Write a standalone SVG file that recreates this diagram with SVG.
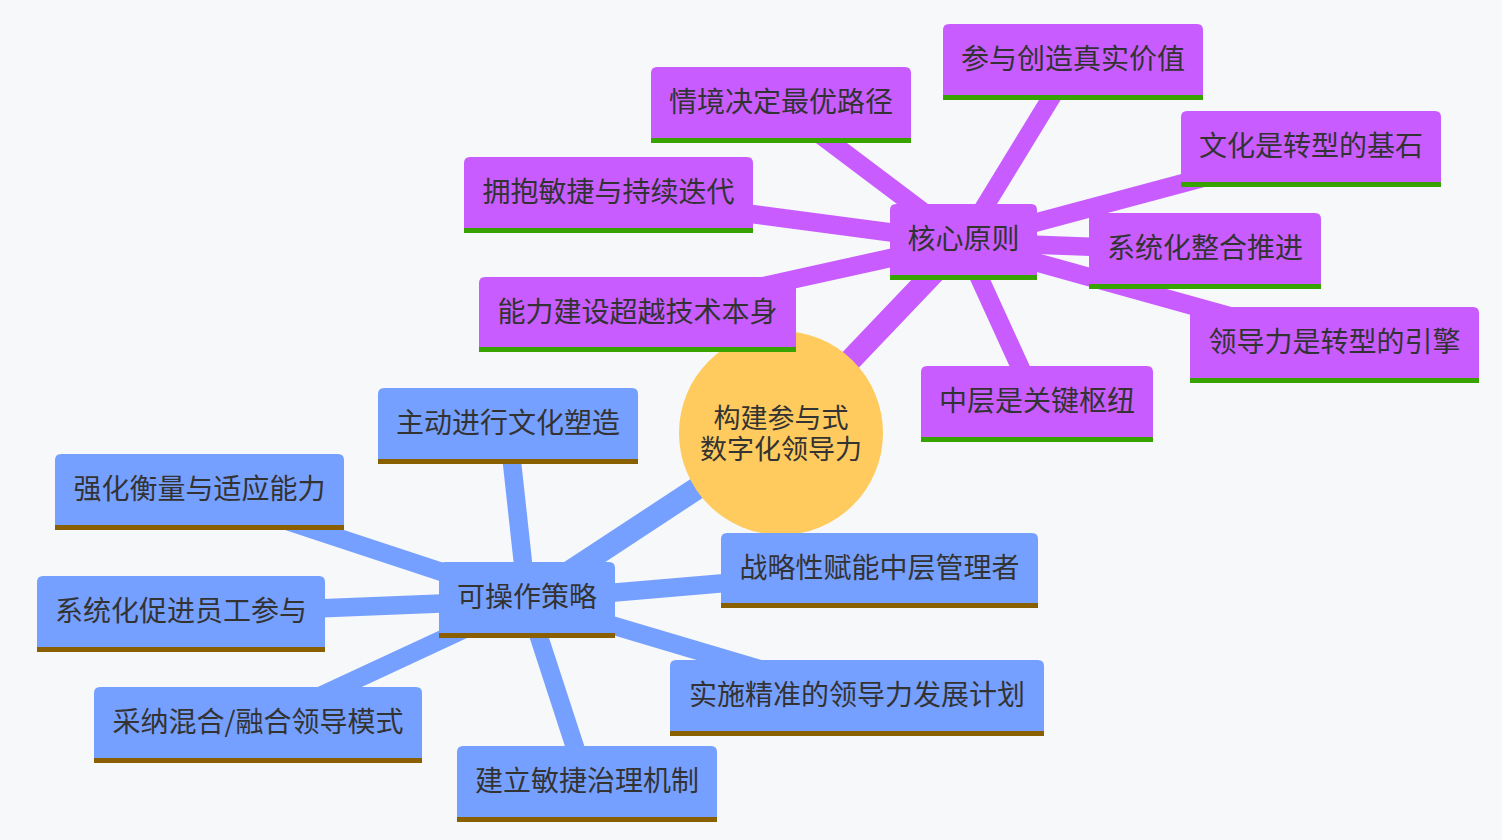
<svg xmlns="http://www.w3.org/2000/svg" width="1502" height="840" viewBox="0 0 1502 840">
<style>
text{font-family:"Noto Sans CJK SC","Noto Sans",sans-serif;font-size:28px;fill:#333333;text-anchor:middle;dominant-baseline:central}
.rt{font-size:27px}
.p{fill:#c85cff}
.pb{fill:#38a300}
.b{fill:#76a0ff}
.bb{fill:#895f00}
.ep{stroke:#c85cff;fill:none}
.eb{stroke:#76a0ff;fill:none}
.d0{stroke-width:22.5}
.d1{stroke-width:18.5}
</style>
<rect x="0" y="0" width="1502" height="840" fill="#f6f8fa"/>
<g id="connectors">
<line class="ep d0" x1="781" y1="433" x2="963" y2="242"/>
<line class="eb d0" x1="781" y1="433" x2="527" y2="600"/>
<line class="ep d1" x1="963" y1="242" x2="1073" y2="62"/>
<line class="ep d1" x1="963" y1="242" x2="781" y2="105"/>
<line class="ep d1" x1="963" y1="242" x2="608" y2="195"/>
<line class="ep d1" x1="963" y1="242" x2="637" y2="314"/>
<line class="ep d1" x1="963" y1="242" x2="1311" y2="149"/>
<line class="ep d1" x1="963" y1="242" x2="1205" y2="251"/>
<line class="ep d1" x1="963" y1="242" x2="1334" y2="345"/>
<line class="ep d1" x1="963" y1="242" x2="1037" y2="404"/>
<line class="eb d1" x1="527" y1="600" x2="508" y2="426"/>
<line class="eb d1" x1="527" y1="600" x2="199" y2="492"/>
<line class="eb d1" x1="527" y1="600" x2="181" y2="614"/>
<line class="eb d1" x1="527" y1="600" x2="258" y2="725"/>
<line class="eb d1" x1="527" y1="600" x2="587" y2="784"/>
<line class="eb d1" x1="527" y1="600" x2="857" y2="698"/>
<line class="eb d1" x1="527" y1="600" x2="879" y2="570"/>
</g>
<g id="root">
<circle cx="781" cy="433" r="102" fill="#ffcb5e"/>
<text class="rt" x="781" y="416"><tspan x="781" y="416">构建参与式</tspan><tspan x="781" y="447">数字化领导力</tspan></text>
</g>
<g id="n-core">
<path class="p" d="M890,280V210Q890,204 896,204H1031Q1037,204 1037,210V280Z"/>
<rect class="pb" x="890" y="275" width="147" height="5"/>
<text x="963.5" y="237">核心原则</text>
</g>
<g id="n-c1">
<path class="p" d="M943,100V30Q943,24 949,24H1197Q1203,24 1203,30V100Z"/>
<rect class="pb" x="943" y="95" width="260" height="5"/>
<text x="1073" y="57">参与创造真实价值</text>
</g>
<g id="n-c2">
<path class="p" d="M651,143V73Q651,67 657,67H905Q911,67 911,73V143Z"/>
<rect class="pb" x="651" y="138" width="260" height="5"/>
<text x="781" y="100">情境决定最优路径</text>
</g>
<g id="n-c3">
<path class="p" d="M464,233V163Q464,157 470,157H747Q753,157 753,163V233Z"/>
<rect class="pb" x="464" y="228" width="289" height="5"/>
<text x="608.5" y="190">拥抱敏捷与持续迭代</text>
</g>
<g id="n-c4">
<path class="p" d="M479,352V283Q479,277 485,277H790Q796,277 796,283V352Z"/>
<rect class="pb" x="479" y="347" width="317" height="5"/>
<text x="637.5" y="309.5">能力建设超越技术本身</text>
</g>
<g id="n-c5">
<path class="p" d="M1181,187V117Q1181,111 1187,111H1435Q1441,111 1441,117V187Z"/>
<rect class="pb" x="1181" y="182" width="260" height="5"/>
<text x="1311" y="144">文化是转型的基石</text>
</g>
<g id="n-c6">
<path class="p" d="M1089,289V219Q1089,213 1095,213H1315Q1321,213 1321,219V289Z"/>
<rect class="pb" x="1089" y="284" width="232" height="5"/>
<text x="1205" y="246">系统化整合推进</text>
</g>
<g id="n-c7">
<path class="p" d="M1190,383V313Q1190,307 1196,307H1473Q1479,307 1479,313V383Z"/>
<rect class="pb" x="1190" y="378" width="289" height="5"/>
<text x="1334.5" y="340">领导力是转型的引擎</text>
</g>
<g id="n-c8">
<path class="p" d="M921,442V372Q921,366 927,366H1147Q1153,366 1153,372V442Z"/>
<rect class="pb" x="921" y="437" width="232" height="5"/>
<text x="1037" y="399">中层是关键枢纽</text>
</g>
<g id="n-strat">
<path class="b" d="M439,638V568Q439,562 445,562H609Q615,562 615,568V638Z"/>
<rect class="bb" x="439" y="633" width="176" height="5"/>
<text x="527" y="595">可操作策略</text>
</g>
<g id="n-s1">
<path class="b" d="M378,464V394Q378,388 384,388H632Q638,388 638,394V464Z"/>
<rect class="bb" x="378" y="459" width="260" height="5"/>
<text x="508" y="421">主动进行文化塑造</text>
</g>
<g id="n-s2">
<path class="b" d="M55,530V460Q55,454 61,454H338Q344,454 344,460V530Z"/>
<rect class="bb" x="55" y="525" width="289" height="5"/>
<text x="199.5" y="487">强化衡量与适应能力</text>
</g>
<g id="n-s3">
<path class="b" d="M37,652V582Q37,576 43,576H319Q325,576 325,582V652Z"/>
<rect class="bb" x="37" y="647" width="288" height="5"/>
<text x="181" y="609">系统化促进员工参与</text>
</g>
<g id="n-s4">
<path class="b" d="M94,763V693Q94,687 100,687H416Q422,687 422,693V763Z"/>
<rect class="bb" x="94" y="758" width="328" height="5"/>
<text x="258" y="720">采纳混合/融合领导模式</text>
</g>
<g id="n-s5">
<path class="b" d="M457,822V752Q457,746 463,746H711Q717,746 717,752V822Z"/>
<rect class="bb" x="457" y="817" width="260" height="5"/>
<text x="587" y="779">建立敏捷治理机制</text>
</g>
<g id="n-s6">
<path class="b" d="M670,736V666Q670,660 676,660H1038Q1044,660 1044,666V736Z"/>
<rect class="bb" x="670" y="731" width="374" height="5"/>
<text x="857" y="693">实施精准的领导力发展计划</text>
</g>
<g id="n-s7">
<path class="b" d="M721,608V539Q721,533 727,533H1032Q1038,533 1038,539V608Z"/>
<rect class="bb" x="721" y="603" width="317" height="5"/>
<text x="879.5" y="565.5">战略性赋能中层管理者</text>
</g>
</svg>
